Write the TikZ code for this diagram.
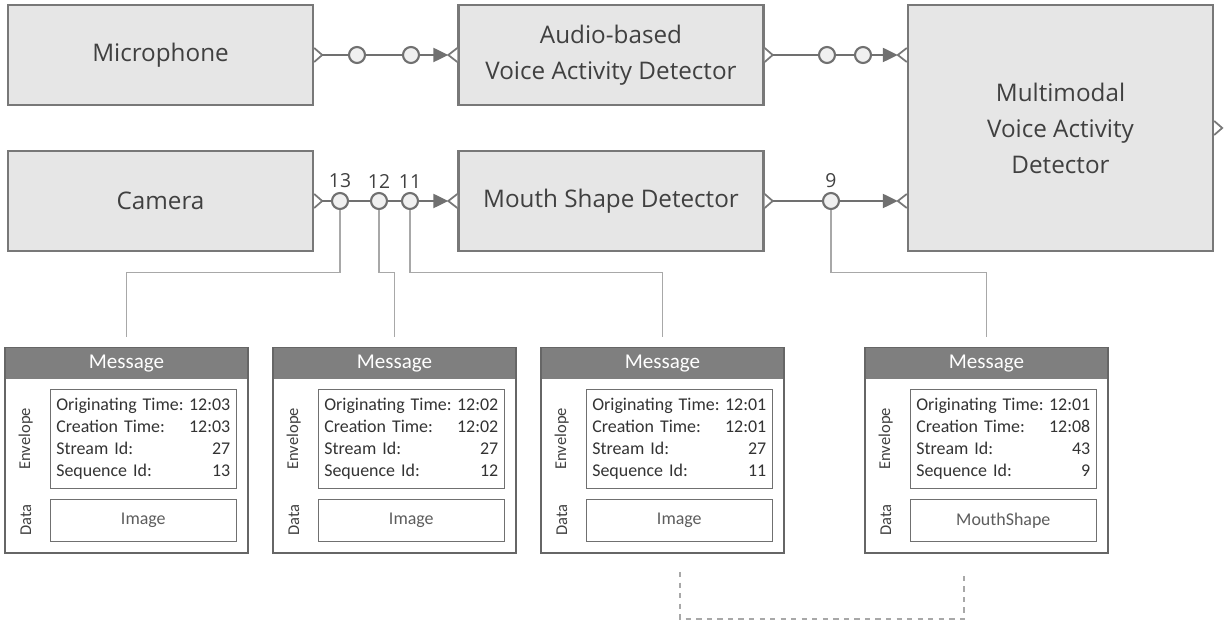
\documentclass[tikz,border=0pt]{standalone}
\usepackage{fontspec}
\setmainfont{Open Sans}
\newfontfamily\msgfont{Carlito}
\usepackage{tikz}
\usetikzlibrary{arrows.meta}
\usetikzlibrary{calc}
\definecolor{boxfill}{HTML}{E6E6E6}
\definecolor{boxline}{HTML}{787878}
\definecolor{wire}{HTML}{707070}
\definecolor{leadgray}{HTML}{A8A8A8}
\definecolor{headfill}{HTML}{7F7F7F}
\definecolor{frameline}{HTML}{666666}
\definecolor{txt}{HTML}{404040}

\begin{document}
\begin{tikzpicture}[x=0.02cm, y=-0.02cm,
    comp/.style={rectangle, draw=boxline, fill=boxfill, line width=1.4pt, minimum width=6.1cm, minimum height=2cm, align=center, text=txt, font=\fontsize{13.8}{20.5}\selectfont},
    port/.style={draw=boxline, fill=white, line width=1pt, line join=miter},
    wireline/.style={draw=wire, line width=1.1pt},
    msgdot/.style={circle, draw=wire, fill=gray!12, line width=1.2pt, minimum size=0.32cm, inner sep=0pt},
    numlabel/.style={text=txt, font=\fontsize{11}{13}\selectfont, inner sep=2pt},
    leader/.style={draw=leadgray, line width=0.6pt},
    msgbox/.style={rectangle, draw=frameline, fill=white, line width=1.4pt, minimum width=4.86cm, minimum height=4.1cm},
    msghead/.style={rectangle, fill=headfill, text=white, minimum width=4.83cm, minimum height=0.62cm, inner sep=0pt, font=\msgfont\fontsize{12}{14}\selectfont},
    envbox/.style={rectangle, draw=wire, line width=0.6pt, text width=3.48cm, inner xsep=0.12cm, inner ysep=0.1cm, minimum height=1.98cm, align=left, text=txt!80!black, font=\msgfont\fontsize{10.2}{12.5}\selectfont},
    databox/.style={rectangle, draw=wire, line width=0.6pt, minimum width=3.72cm, minimum height=0.84cm, text=txt!85, font=\msgfont\fontsize{10.2}{12.5}\selectfont},
    sidelabel/.style={rotate=90, text=txt, font=\msgfont\fontsize{9.4}{11}\selectfont},
    bracket/.style={draw=leadgray, line width=0.6pt, dashed}]
    \useasboundingbox (0,0) rectangle (1225,624);

    % Components
    \node[comp] (mic) at (160.5,55) {Microphone};
    \node[comp] (audio) at (611,55) {Audio-based\\Voice Activity Detector};
    \node[comp] (camera) at (160.5,201) {Camera};
    \node[comp] (mouth) at (611,201) {Mouth Shape Detector};
    \node[comp, minimum height=4.92cm] (mmvad) at (1060.5,128) {Multimodal\\Voice Activity\\Detector};

    % Ports
    \coordinate (audio-p) at (audio.west);
    \coordinate (mouth-p) at (mouth.west);
    \coordinate (mm-p1) at (mmvad.west |- audio.west);
    \coordinate (mm-p2) at (mmvad.west |- mouth.west);
    \foreach \b in {mic, audio, camera, mouth, mmvad}
        \draw[port] ($(\b.east)+(0,-7)$) -- ($(\b.east)+(8,0)$) -- ($(\b.east)+(0,7)$);
    \foreach \b in {audio-p, mouth-p, mm-p1, mm-p2}
        \draw[port] ($(\b)+(0,-7)$) -- ($(\b)+(-9,0)$) -- ($(\b)+(0,7)$);
    \coordinate (mic-out) at ($(mic.east)+(8,0)$);
    \coordinate (audio-out) at ($(audio.east)+(8,0)$);
    \coordinate (camera-out) at ($(camera.east)+(8,0)$);
    \coordinate (mouth-out) at ($(mouth.east)+(8,0)$);
    \coordinate (audio-in) at ($(audio-p)+(-9,0)$);
    \coordinate (mouth-in) at ($(mouth-p)+(-9,0)$);
    \coordinate (mm-in1) at ($(mm-p1)+(-9,0)$);
    \coordinate (mm-in2) at ($(mm-p2)+(-9,0)$);

    % Streams with messages in flight
    \node[msgdot] (a1) at (357,55) {};
    \node[msgdot] (a2) at (411,55) {};
    \node[msgdot] (v1) at (827,55) {};
    \node[msgdot] (v2) at (863,55) {};
    \node[msgdot, label={[numlabel]above:13}] (c13) at (340,201) {};
    \node[msgdot, label={[numlabel]above:12}] (c12) at (379,201) {};
    \node[msgdot, label={[numlabel]above:11}] (c11) at (410,201) {};
    \node[msgdot, label={[numlabel]above:9}] (c9) at (831,201) {};
    \draw[wireline] (mic-out) -- (a1);
    \draw[wireline] (a1) -- (a2);
    \draw[wireline, -{Triangle[length=8.5pt, width=8pt]}] (a2) -- (audio-in);
    \draw[wireline] (audio-out) -- (v1);
    \draw[wireline] (v1) -- (v2);
    \draw[wireline, -{Triangle[length=8.5pt, width=8pt]}] (v2) -- (mm-in1);
    \draw[wireline] (camera-out) -- (c13);
    \draw[wireline] (c13) -- (c12);
    \draw[wireline] (c12) -- (c11);
    \draw[wireline, -{Triangle[length=8.5pt, width=8pt]}] (c11) -- (mouth-in);
    \draw[wireline] (mouth-out) -- (c9);
    \draw[wireline, -{Triangle[length=8.5pt, width=8pt]}] (c9) -- (mm-in2);

    % Messages
    \foreach \i/\x/\orig/\made/\sid/\seq/\data in {1/126.5/12:03/12:03/27/13/Image, 2/394.5/12:02/12:02/27/12/Image, 3/662.5/12:01/12:01/27/11/Image, 4/986.5/12:01/12:08/43/9/MouthShape} {
        \node[msgbox] (msg\i) at (\x,450.5) {};
        \node[msghead, anchor=north] (head\i) at ($(msg\i.north)+(0,1)$) {Message};
        \node[envbox, anchor=north west] (env\i) at ($(msg\i.north west)+(46,42)$) {Originating Time:\hfill\orig\\Creation Time:\hfill\made\\Stream Id:\hfill\sid\\Sequence Id:\hfill\seq};
        \node[databox, anchor=north west] (data\i) at ($(msg\i.north west)+(46,152)$) {\data};
        \node[sidelabel] (envlab\i) at ($(msg\i.north west)+(22,92)$) {Envelope};
        \node[sidelabel] (datalab\i) at ($(msg\i.north west)+(22,173)$) {Data};
    }

    % Leaders from messages in flight
    \draw[leader] (c13.south) |- ($(msg1.north)+(0,-74)$) -- ($(msg1.north)+(0,-10)$);
    \draw[leader] (c12.south) |- ($(msg2.north)+(0,-74)$) -- ($(msg2.north)+(0,-10)$);
    \draw[leader] (c11.south) |- ($(msg3.north)+(0,-74)$) -- ($(msg3.north)+(0,-10)$);
    \draw[leader] (c9.south) |- ($(msg4.north)+(0,-74)$) -- ($(msg4.north)+(0,-10)$);

    % Bracket below
    \coordinate (br-a) at (680,572);
    \coordinate (br-b) at (964,572);
    \draw[bracket] (br-a) -- ++(0,47) -| (br-b);
\end{tikzpicture}
\end{document}
